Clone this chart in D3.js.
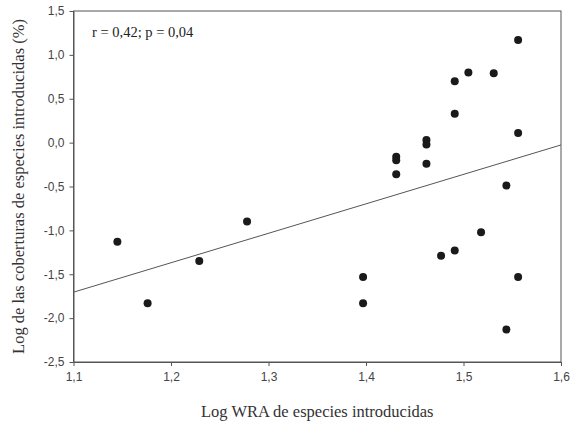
<!DOCTYPE html>
<html>
<head>
<meta charset="utf-8">
<script src="https://cdn.jsdelivr.net/npm/d3@7"></script>
<style>
  body { margin: 0; background: #fff; }
  .tick text { font-family: "Liberation Sans", Arial, sans-serif; font-size: 12px; fill: #444; }
  .domain, .tick line { stroke: #555; }
</style>
</head>
<body>
<svg id="chart"></svg>
<script>
// log WRA (x) vs log cover (y)
let xVals = [1.145, 1.176, 1.229, 1.278, 1.397, 1.397, 1.431, 1.431, 1.431, 1.462, 1.462, 1.462,
             1.491, 1.491, 1.505, 1.531, 1.556, 1.556, 1.544, 1.518, 1.477, 1.491, 1.556, 1.544]
let yVals = [-1.13, -1.83, -1.35, -0.90, -1.53, -1.83, -0.16, -0.20, -0.36, 0.03, -0.02, -0.24,
             0.70, 0.33, 0.80, 0.79, 1.17, 0.11, -0.49, -1.02, -1.29, -1.23, -1.53, -2.13]
let xTicks = [1.1, 1.2, 1.3, 1.4, 1.5, 1.6]
let yTicks = [-2.5, -2.0, -1.5, -1.0, -0.5, 0.0, 0.5, 1.0, 1.5]
let fit = [-5.396, 3.356] // intercept, slope
let statText = "r = 0,42; p = 0,04"

let width = 573
let height = 425
let margin = {top: 11, right: 12, bottom: 63, left: 73.5}

let svg = d3.select("#chart")
  .attr("width", width)
  .attr("height", height)

let xScale = d3.scaleLinear().domain([1.1, 1.6]).range([margin.left, width - margin.right])
let yScale = d3.scaleLinear().domain([-2.5, 1.5]).range([height - margin.bottom, margin.top])

let fmt = (d, n) => d3.format("." + n + "f")(d).replace(".", ",").replace("−", "-")

let xAxis = d3.axisBottom(xScale).tickValues(xTicks).tickSize(4).tickSizeOuter(0).tickPadding(6)
  .tickFormat(d => fmt(d, 1))
let yAxis = d3.axisLeft(yScale).tickValues(yTicks).tickSize(4).tickSizeOuter(0).tickPadding(5)
  .tickFormat(d => fmt(d, 1))

// frame
svg.append("rect")
  .attr("x", margin.left)
  .attr("y", margin.top)
  .attr("width", width - margin.right - margin.left)
  .attr("height", height - margin.bottom - margin.top)
  .attr("fill", "none")
  .attr("stroke", "#555")

svg.append("g")
  .attr("transform", "translate(0," + (height - margin.bottom) + ")")
  .call(xAxis)
svg.append("g")
  .attr("transform", "translate(" + margin.left + ",0)")
  .call(yAxis)

// regression line
svg.append("line")
  .attr("x1", xScale(1.1))
  .attr("y1", yScale(fit[0] + fit[1] * 1.1))
  .attr("x2", xScale(1.6))
  .attr("y2", yScale(fit[0] + fit[1] * 1.6))
  .attr("stroke", "#555")
  .attr("stroke-width", 1)

svg.selectAll("circle")
  .data(xVals)
  .enter()
  .append("circle")
  .attr("cx", (d) => xScale(d))
  .attr("cy", (d, i) => yScale(yVals[i]))
  .attr("r", 4)
  .attr("fill", "#1a1a1a")

svg.append("text")
  .text(statText)
  .attr("x", 92)
  .attr("y", 37)
  .style("font-family", "'Liberation Serif', 'Times New Roman', serif")
  .style("font-size", "14.5px")
  .attr("fill", "#222")

svg.append("text")
  .text("Log WRA de especies introducidas")
  .attr("x", (margin.left + width - margin.right) / 2)
  .attr("y", 417)
  .attr("text-anchor", "middle")
  .style("font-family", "'Liberation Serif', 'Times New Roman', serif")
  .style("font-size", "16.5px")
  .attr("fill", "#333")

svg.append("text")
  .text("Log de las coberturas de especies introducidas (%)")
  .attr("transform", "translate(24," + ((margin.top + height - margin.bottom) / 2) + ") rotate(-90)")
  .attr("text-anchor", "middle")
  .style("font-family", "'Liberation Serif', 'Times New Roman', serif")
  .style("font-size", "16.5px")
  .attr("fill", "#333")
</script>
</body>
</html>
